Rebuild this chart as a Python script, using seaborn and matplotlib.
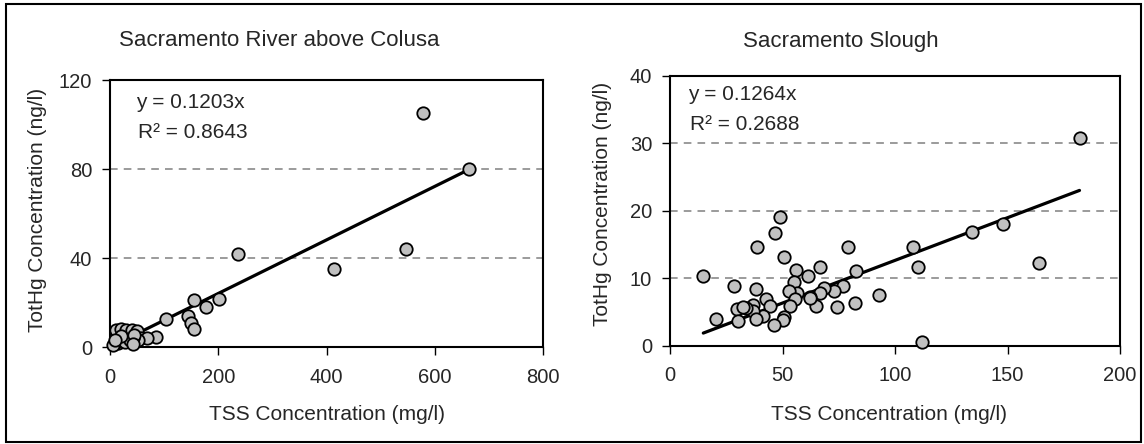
import numpy as np
import pandas as pd
import matplotlib
matplotlib.use('Agg')
import matplotlib.pyplot as plt
import seaborn as sns
from matplotlib.patches import Rectangle

# Sacramento River above Colusa (TSS mg/l, TotHg ng/l)
colusa_tss = [578, 663, 236, 413, 546, 202, 177, 155, 145, 149, 155, 103, 85,
              12, 20, 29, 40, 49, 58, 68, 52, 43, 15, 9, 6, 28, 37, 20, 45, 10, 43]
colusa_hg = [105, 80, 42, 35, 44, 21.5, 18, 21, 14, 11, 8, 12.5, 4.6,
             7.5, 8, 7.5, 7.5, 7, 4, 4, 3, 4, 2, 1.7, 1, 2.4, 3, 5, 5.5, 3, 1.5]
colusa_slope = 0.1203
colusa_r2 = 0.8643

# Sacramento Slough
slough_tss = [182, 148, 134, 164, 108, 110, 112, 93, 82.5, 79, 82, 77, 74, 73,
              68.5, 66.5, 66.5, 65, 61.5, 62, 56, 55, 56.3, 53, 55.6, 53.3, 50.7,
              48.9, 46.8, 50.7, 50.4, 46, 38.8, 38.1, 42.7, 44.4, 41.5, 37, 37,
              38, 33.8, 29.6, 30.4, 28.6, 20.4, 14.8, 32.6, 62]
slough_hg = [30.8, 18.1, 16.9, 12.2, 14.6, 11.6, 0.6, 7.5, 11, 14.6, 6.3, 8.9,
             5.7, 8.1, 8.6, 11.6, 7.8, 5.9, 10.3, 7.2, 11.2, 9.5, 7.8, 8.1, 6.9,
             5.9, 13.1, 19, 16.7, 4.2, 3.8, 3, 14.6, 8.4, 6.9, 5.9, 4.4, 6, 5.2,
             3.9, 5.6, 5.4, 3.6, 8.9, 3.9, 10.4, 5.7, 7]
slough_slope = 0.1264
slough_r2 = 0.2688

sns.set_style('white')
plt.rcParams['font.family'] = ['Liberation Sans', 'DejaVu Sans']

W, H = 1144, 444
fig = plt.figure(figsize=(W / 100, H / 100), dpi=100)
ax1 = fig.add_axes([110 / W, 1 - 347 / H, 433 / W, 267 / H])
ax2 = fig.add_axes([670 / W, 1 - 345.7 / H, 450 / W, 270 / H])

fs = 15

panels = [
    (ax1, colusa_tss, colusa_hg, colusa_slope, colusa_r2, (0, 800), [0, 200, 400, 600, 800], (0, 120), [0, 40, 80, 120]),
    (ax2, slough_tss, slough_hg, slough_slope, slough_r2, (0, 200), [0, 50, 100, 150, 200], (0, 40), [0, 10, 20, 30, 40]),
]

for ax, xs, ys, slope, r2, xlim, xt, ylim, yt in panels:
    df = pd.DataFrame({'tss': xs, 'hg': ys})
    for g in yt[1:-1]:
        ax.axhline(g, color='#808080', linestyle=(0, (5, 4)), linewidth=1.1, zorder=0)
    xfit = np.array([min(xs), max(xs)])
    sns.lineplot(x=xfit, y=slope * xfit, color='black', linewidth=2.3, ax=ax, zorder=2)
    sns.scatterplot(data=df, x='tss', y='hg', s=80, color='#c0c0c0',
                    edgecolor='black', linewidth=1.3, ax=ax, zorder=3, clip_on=False)
    ax.set_xlim(xlim)
    ax.set_ylim(ylim)
    ax.set_xticks(xt)
    ax.set_yticks(yt)
    ax.set_xlabel('')
    ax.set_ylabel('')
    for sp in ax.spines.values():
        sp.set_color('black')
        sp.set_linewidth(1.5)
    ax.tick_params(direction='out', length=5.8, width=1, color='black', labelsize=14.5,
                   bottom=True, left=True)
    ax.tick_params(axis='x', pad=9)
    ax.tick_params(axis='y', pad=7)

# equation labels
fig.text(136 / W, 1 - 108.5 / H, 'y = %.4fx' % colusa_slope, fontsize=fs, va='baseline')
fig.text(138 / W, 1 - 138 / H, 'R² = %.4f' % colusa_r2, fontsize=fs, va='baseline')
fig.text(688 / W, 1 - 99.5 / H, 'y = %.4fx' % slough_slope, fontsize=fs, va='baseline')
fig.text(690 / W, 1 - 130 / H, 'R² = %.4f' % slough_r2, fontsize=fs, va='baseline')

# axis labels
fig.text(37.5 / W, 1 - 210 / H, 'TotHg Concentration (ng/l)', fontsize=fs, rotation=90, ha='center', va='center')
fig.text(602 / W, 1 - 204 / H, 'TotHg Concentration (ng/l)', fontsize=fs, rotation=90, ha='center', va='center')
fig.text(327 / W, 1 - 420 / H, 'TSS Concentration (mg/l)', fontsize=fs, ha='center', va='baseline')
fig.text(889 / W, 1 - 420 / H, 'TSS Concentration (mg/l)', fontsize=fs, ha='center', va='baseline')

# titles
fig.text(279 / W, 1 - 46.5 / H, 'Sacramento River above Colusa', fontsize=16, ha='center', va='baseline')
fig.text(841 / W, 1 - 46.5 / H, 'Sacramento Slough', fontsize=16, ha='center', va='baseline')

fig.patches.append(Rectangle((6 / W, 2 / H), 1135 / W, 438 / H, transform=fig.transFigure,
                             fill=False, edgecolor='black', linewidth=1.5))

fig.savefig('out.png', dpi=100)
